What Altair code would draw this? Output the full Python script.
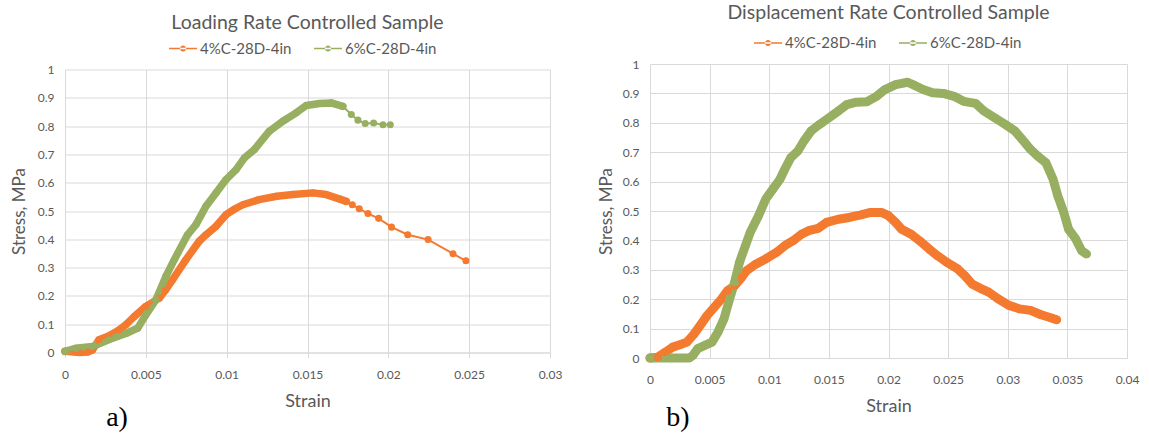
import altair as alt
import pandas as pd

SERIES = ["4%C-28D-4in", "6%C-28D-4in"]
COLORS = ["#F47A30", "#98AF62"]

# Panel a) Loading rate controlled
a4_strain = [0, 0.0009, 0.0014, 0.0017, 0.0021, 0.0027, 0.00335, 0.0038, 0.00428, 0.005, 0.00583, 0.0062,
             0.00665, 0.00748, 0.0083, 0.00872, 0.00934, 0.00996, 0.0105, 0.011, 0.012, 0.0131, 0.0141,
             0.01533, 0.01616, 0.017, 0.0174, 0.01777, 0.0182, 0.01874, 0.0194, 0.0202, 0.0212, 0.02246,
             0.024, 0.0248]
a4_stress = [0.004, 0.0, 0.002, 0.009, 0.045, 0.058, 0.08, 0.1, 0.127, 0.163, 0.192, 0.22,
             0.257, 0.328, 0.393, 0.416, 0.446, 0.487, 0.507, 0.522, 0.54, 0.552, 0.558,
             0.564, 0.558, 0.542, 0.534, 0.522, 0.508, 0.491, 0.474, 0.443, 0.416, 0.399,
             0.349, 0.324]
a6_strain = [0, 0.00066, 0.0017, 0.0027, 0.0038, 0.0045, 0.005, 0.00562, 0.00624, 0.00676, 0.00758,
             0.0081, 0.00872, 0.00934, 0.00996, 0.01058, 0.0111, 0.01171, 0.01264, 0.01347, 0.0143,
             0.01492, 0.01574, 0.01647, 0.01719, 0.01771, 0.01812, 0.01857, 0.01909, 0.01967, 0.02012]
a6_stress = [0.004, 0.015, 0.021, 0.045, 0.068, 0.086, 0.133, 0.186, 0.269, 0.328, 0.416,
             0.452, 0.517, 0.564, 0.611, 0.646, 0.688, 0.717, 0.782, 0.817, 0.847,
             0.873, 0.88, 0.882, 0.87, 0.841, 0.821, 0.809, 0.811, 0.805, 0.805]

# Panel b) Displacement rate controlled
b4_strain = [0, 0.00067, 0.0013, 0.0019, 0.0025, 0.0031, 0.0037, 0.0043, 0.0048, 0.0054, 0.006, 0.0065,
             0.0071, 0.0077, 0.0081, 0.0089, 0.0097, 0.0106, 0.0113, 0.012, 0.0127, 0.0133, 0.0141,
             0.0148, 0.0158, 0.0167, 0.0176, 0.0185, 0.0194, 0.02, 0.0206, 0.0211, 0.0219, 0.0226,
             0.0234, 0.0241, 0.0249, 0.0258, 0.0264, 0.027, 0.0277, 0.0284, 0.0292, 0.0301, 0.031,
             0.0319, 0.0328, 0.0336, 0.0341]
b4_stress = [0, 0.003, 0.02, 0.037, 0.045, 0.054, 0.082, 0.116, 0.145, 0.173, 0.201, 0.229,
             0.246, 0.275, 0.297, 0.32, 0.337, 0.359, 0.382, 0.399, 0.421, 0.433, 0.441,
             0.461, 0.472, 0.478, 0.486, 0.495, 0.495, 0.484, 0.461, 0.438, 0.421, 0.399,
             0.371, 0.348, 0.325, 0.303, 0.28, 0.252, 0.237, 0.224, 0.201, 0.179, 0.167,
             0.162, 0.147, 0.137, 0.13]
b6_strain = [0, 0.0017, 0.0033, 0.0036, 0.004, 0.0046, 0.0052, 0.0057, 0.0062, 0.0066, 0.0071, 0.0075,
             0.008, 0.0084, 0.0091, 0.0097, 0.0103, 0.0109, 0.0113, 0.0118, 0.0124, 0.0129, 0.0135,
             0.0142, 0.015, 0.0158, 0.0165, 0.0173, 0.0182, 0.019, 0.0197, 0.0206, 0.0216, 0.0222,
             0.0229, 0.0237, 0.0246, 0.0255, 0.0263, 0.0273, 0.028, 0.0289, 0.0298, 0.0306, 0.0312,
             0.0319, 0.0325, 0.0332, 0.0338, 0.0342, 0.0347, 0.0351, 0.0357, 0.0362, 0.0366]
b6_stress = [0, 0, 0, 0.009, 0.032, 0.043, 0.054, 0.088, 0.133, 0.19, 0.258, 0.325,
             0.382, 0.427, 0.484, 0.54, 0.574, 0.608, 0.642, 0.681, 0.704, 0.738, 0.772,
             0.794, 0.817, 0.84, 0.862, 0.87, 0.872, 0.89, 0.913, 0.93, 0.938, 0.927,
             0.913, 0.902, 0.9, 0.89, 0.873, 0.866, 0.84, 0.817, 0.794, 0.772, 0.744,
             0.71, 0.687, 0.664, 0.608, 0.551, 0.495, 0.438, 0.405, 0.365, 0.354]

y_ticks = [0, 0.1, 0.2, 0.3, 0.4, 0.5, 0.6, 0.7, 0.8, 0.9, 1.0]
a_x_ticks = [0, 0.005, 0.01, 0.015, 0.02, 0.025, 0.03]
b_x_ticks = [0, 0.005, 0.01, 0.015, 0.02, 0.025, 0.03, 0.035, 0.04]

FONT = "Lato"
GREY = "#595959"
GRID = "#d9d9d9"
LEGEND_PATH = ("M-1,-0.06H1V0.06H-1Z "
               "M-0.22,0A0.22,0.22 0 1,0 0.22,0A0.22,0.22 0 1,0 -0.22,0Z")


def frame(s4x, s4y, s6x, s6y):
    d4 = pd.DataFrame({"strain": s4x, "stress": s4y, "series": SERIES[0]})
    d6 = pd.DataFrame({"strain": s6x, "stress": s6y, "series": SERIES[1]})
    return pd.concat([d4, d6], ignore_index=True)


def panel(df, thick_df, title, title_offset, xmax, xticks, xticks_on, w, h,
          thick, dot_size, tag, tag_x, tag_y, ytitle_pad, xlabel_pad, legend_y):
    xs = alt.Scale(domain=[0, xmax], nice=False, zero=True)
    ys = alt.Scale(domain=[0, 1], nice=False)
    xaxis = alt.Axis(values=xticks, format="~g", grid=True, gridColor=GRID, domainColor=GRID,
                     ticks=xticks_on, tickColor=GRID, tickSize=5, labelFont=FONT, labelFontSize=12,
                     labelColor=GREY, labelPadding=xlabel_pad, labelFlush=False, labelOverlap=False,
                     title="Strain", titleFont=FONT, titleFontSize=18, titleFontWeight="normal",
                     titleColor=GREY, titlePadding=12)
    yaxis = alt.Axis(values=y_ticks, tickCount=11, format="~g", grid=True, gridColor=GRID,
                     domain=False, ticks=False, labelFont=FONT, labelFontSize=12, labelColor=GREY,
                     labelPadding=11, labelFlush=False, labelOverlap=False,
                     title="Stress, MPa", titleFont=FONT, titleFontSize=17,
                     titleFontWeight="normal", titleColor=GREY, titlePadding=ytitle_pad)
    cscale = alt.Scale(domain=SERIES, range=COLORS)
    legend = alt.Legend(orient="none", legendX=104, legendY=legend_y, direction="horizontal",
                        title=None, symbolType=LEGEND_PATH, symbolSize=784,
                        symbolStrokeWidth=0, symbolOpacity=1, labelFont=FONT, labelFontSize=15,
                        labelColor=GREY, labelOffset=3, columnPadding=22, padding=0)
    X = alt.X("strain:Q", scale=xs, axis=xaxis)
    Y = alt.Y("stress:Q", scale=ys, axis=yaxis)
    color = alt.Color("series:N", scale=cscale, legend=legend)
    base = alt.Chart(df)
    thick_line = alt.Chart(thick_df).mark_line(strokeWidth=thick, strokeJoin="round",
                                                strokeCap="round").encode(
        x=X, y=Y, color=color, detail="series:N")
    thin_line = base.mark_line(strokeWidth=2).encode(x=X, y=Y, color=color, detail="series:N")
    dots = base.mark_circle(size=dot_size, opacity=1).encode(x=X, y=Y, color=color)
    label = alt.Chart(pd.DataFrame({"t": [tag]})).mark_text(
        font="Liberation Serif", fontSize=28, color="black", align="center", baseline="middle"
    ).encode(x=alt.value(tag_x), y=alt.value(tag_y), text="t:N")
    return alt.layer(thick_line, thin_line, dots, label).properties(
        width=w, height=h,
        title=alt.TitleParams(title, font=FONT, fontSize=19.5, fontWeight="normal", color=GREY,
                              anchor="middle", offset=title_offset))


df_a = frame(a4_strain, a4_stress, a6_strain, a6_stress)
thick_a = df_a[((df_a.series == SERIES[0]) & (df_a.strain <= 0.0175)) |
               ((df_a.series == SERIES[1]) & (df_a.strain <= 0.0173))]
df_b = frame(b4_strain, b4_stress, b6_strain, b6_stress)

pa = panel(df_a, thick_a, "Loading Rate Controlled Sample", 1, 0.03, a_x_ticks, True, 485, 283,
           7.5, 50, "a)", 52, 348, 9, 12, -35)
pb = panel(df_b, df_b, "Displacement Rate Controlled Sample", 6, 0.04, b_x_ticks, False, 477, 294,
           9, 64, "b)", 28, 354, 7, 16, -35)

chart = alt.hconcat(pa, pb, spacing=100, bounds="flush", center=True).resolve_scale(
    color="independent").resolve_legend(color="independent").properties(
    padding={"left": 10, "top": 2, "right": 5, "bottom": 0}
).configure_view(stroke=None)

chart.save("out.html", embed_options={"renderer": "svg", "actions": False})
